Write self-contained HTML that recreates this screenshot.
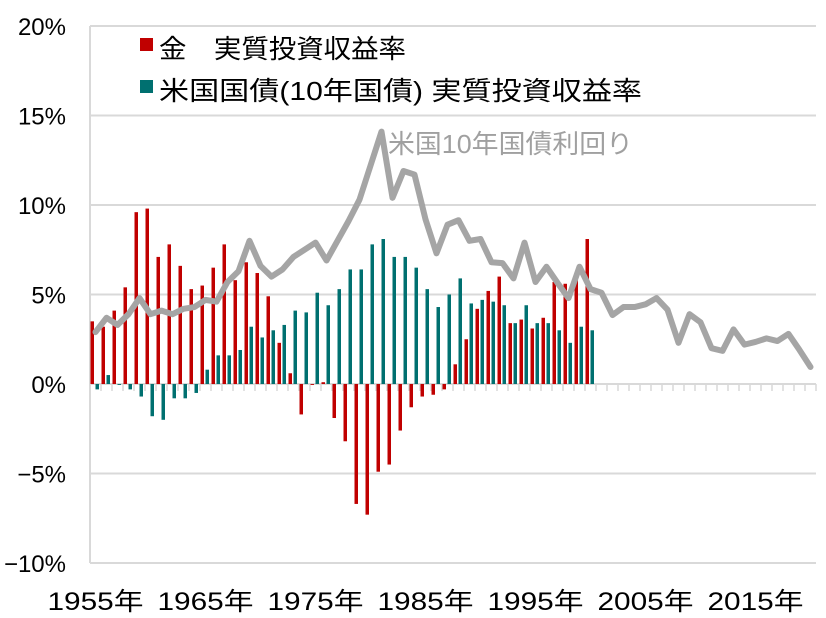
<!DOCTYPE html>
<html><head><meta charset="utf-8"><style>
html,body{margin:0;padding:0;background:#fff;}
svg{display:block;font-family:"Liberation Sans","Noto Sans CJK JP",sans-serif;}
</style></head><body>
<svg id="chart" width="826" height="618" viewBox="0 0 826 618" xmlns="http://www.w3.org/2000/svg">
<g id="grid"></g>
<g id="yaxis"></g>
<g id="xaxis"></g>
<g id="bars"></g>
<g id="line"></g>
<g>
  <rect x="140" y="38" width="13" height="13" fill="#c00000"/>
  <text x="159" y="58" font-size="26" fill="#000" textLength="247" lengthAdjust="spacingAndGlyphs">金　実質投資収益率</text>
  <rect x="140" y="80" width="13" height="13" fill="#007070"/>
  <text x="159" y="100" font-size="26" fill="#000" textLength="483" lengthAdjust="spacingAndGlyphs">米国国債(10年国債)  実質投資収益率</text>
</g>
<text x="388" y="153" font-size="26" fill="#a0a0a0" textLength="245" lengthAdjust="spacingAndGlyphs">米国10年国債利回り</text>
</svg>
<script>
const years = [];
for (let y = 1955; y <= 2020; y++) years.push(y);
const goldReturns = [3.5,3.2,4.1,5.4,9.6,9.8,7.1,7.8,6.6,5.3,
  5.5,6.5,7.8,5.8,6.8,6.2,4.9,2.3,0.6,-1.7,
  -0.05,0.1,-1.9,-3.2,-6.7,-7.3,-4.9,-4.5,-2.6,-1.3,
  -0.7,-0.6,-0.3,1.1,2.5,4.2,5.2,6.0,3.4,3.6,
  3.1,3.7,5.7,5.6,5.8,8.1];
const bondReturns = [-0.3,0.5,-0.05,-0.3,-0.7,-1.8,-2.0,-0.8,-0.8,-0.5,
  0.8,1.6,1.6,1.9,3.2,2.6,3.0,3.3,4.1,4.0,
  5.1,4.4,5.3,6.4,6.4,7.8,8.1,7.1,7.1,6.5,
  5.3,4.3,5.0,5.9,4.5,4.7,4.6,4.4,3.4,4.4,
  3.4,3.4,3.0,2.3,3.2,3.0];
const yields10y = [2.9,3.7,3.3,3.9,4.8,3.9,4.1,3.9,4.2,4.3,
  4.7,4.6,5.7,6.3,8.0,6.6,6.0,6.4,7.1,7.5,
  7.9,6.9,8.0,9.1,10.3,12.2,14.1,10.4,11.9,11.7,
  9.2,7.3,8.9,9.15,8.0,8.1,6.8,6.75,5.9,7.9,
  5.7,6.55,5.65,4.8,6.55,5.3,5.1,3.85,4.3,4.3,
  4.45,4.8,4.15,2.3,3.9,3.45,2.0,1.85,3.05,2.2,
  2.35,2.55,2.4,2.8,1.9,0.95];
const yTicks = [20,15,10,5,0,-5,-10];
const yTickLabels = ["20%","15%","10%","5%","0%","−5%","−10%"];
const xLabelYears = [1955,1965,1975,1985,1995,2005,2015];

const NS = "http://www.w3.org/2000/svg";
const X0 = 90, SLOT = 11.0, Y0 = 384, PX = 17.9;
function xs(i){ return X0 + i*SLOT; }
function ys(v){ return Y0 - v*PX; }
function mk(tag, attrs, parent){ const e=document.createElementNS(NS,tag); for(const k in attrs) e.setAttribute(k,attrs[k]); parent.appendChild(e); return e; }

const grid = document.getElementById('grid');
const yaxis = document.getElementById('yaxis');
const xaxis = document.getElementById('xaxis');
const bars = document.getElementById('bars');
const lineG = document.getElementById('line');
const xEnd = xs(years.length);

yTicks.forEach((t,k)=>{
  if (t !== 0) {
    const g = mk('line',{x1:X0,x2:xEnd,y1:ys(t),y2:ys(t),stroke:'#d9d9d9','stroke-width':2},grid);
    
    
  }
  const tx = mk('text',{x:66,y:ys(t)+9,'text-anchor':'end','font-size':24,fill:'#000'},yaxis);
  tx.textContent = yTickLabels[k];
  
  
});
const vax = mk('line',{x1:X0,x2:X0,y1:ys(20),y2:ys(-10),stroke:'#d9d9d9','stroke-width':2},grid);



goldReturns.forEach((v,i)=>{
  const y = Math.min(ys(v),Y0), h = Math.abs(ys(v)-Y0);
  const r = mk('rect',{x:xs(i)+0.5,y:y,width:3.5,height:Math.max(h,0.5),fill:'#c00000'},bars);
  
  
});
bondReturns.forEach((v,i)=>{
  const y = Math.min(ys(v),Y0), h = Math.abs(ys(v)-Y0);
  const r = mk('rect',{x:xs(i)+5.5,y:y,width:3.5,height:Math.max(h,0.5),fill:'#007070'},bars);
  
  
});

const axis0 = mk('line',{x1:X0,x2:xEnd,y1:Y0,y2:Y0,stroke:'#d9d9d9','stroke-width':2},xaxis);


for (let i=0;i<=years.length;i++){
  const t = mk('line',{x1:xs(i),x2:xs(i),y1:Y0,y2:Y0+7,stroke:'#d9d9d9','stroke-width':1.5},xaxis);
  
  
}
xLabelYears.forEach(yr=>{
  const i = years.indexOf(yr);
  const tx = mk('text',{x:xs(i)+SLOT/2-48,y:610,'font-size':25,fill:'#000',textLength:96,lengthAdjust:'spacingAndGlyphs'},xaxis);
  tx.textContent = yr+'年';
  
  
});

const pts = yields10y.map((v,i)=>(xs(i)+SLOT/2)+','+ys(v)).join(' ');
const pl = mk('polyline',{points:pts,fill:'none',stroke:'#a5a5a5','stroke-width':6,'stroke-linejoin':'round','stroke-linecap':'round'},lineG);


</script>
</body></html>
